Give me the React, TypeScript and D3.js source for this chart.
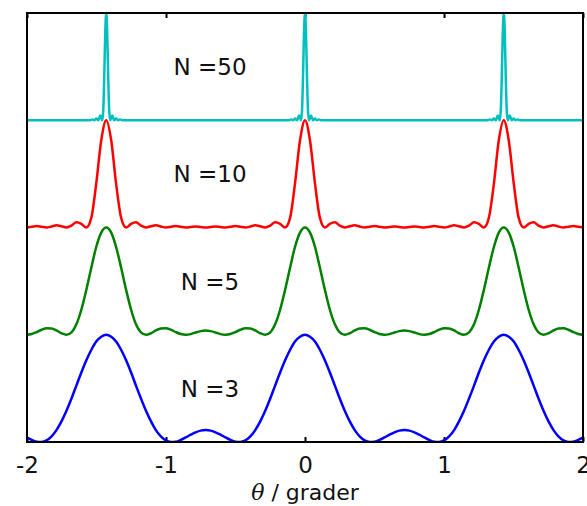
import React, { useEffect, useRef } from "react";
import * as d3 from "d3";

// θ sample positions (degrees) shared by N = 3, 5, 10
const theta: number[] = [
  -2.002, -1.966, -1.931, -1.895, -1.859, -1.823, -1.788, -1.752, -1.716, -1.680,
  -1.645, -1.609, -1.573, -1.537, -1.502, -1.466, -1.430, -1.394, -1.359, -1.323,
  -1.287, -1.251, -1.216, -1.180, -1.144, -1.108, -1.073, -1.037, -1.001, -0.965,
  -0.930, -0.894, -0.858, -0.822, -0.787, -0.751, -0.715, -0.679, -0.644, -0.608,
  -0.572, -0.536, -0.501, -0.465, -0.429, -0.393, -0.358, -0.322, -0.286, -0.250,
  -0.215, -0.179, -0.143, -0.107, -0.072, -0.036,
  0,
  0.036, 0.072, 0.107, 0.143, 0.179, 0.215, 0.250, 0.286, 0.322, 0.358,
  0.393, 0.429, 0.465, 0.501, 0.536, 0.572, 0.608, 0.644, 0.679, 0.715,
  0.751, 0.787, 0.822, 0.858, 0.894, 0.930, 0.965, 1.001, 1.037, 1.073,
  1.108, 1.144, 1.180, 1.216, 1.251, 1.287, 1.323, 1.359, 1.394, 1.430,
  1.466, 1.502, 1.537, 1.573, 1.609, 1.645, 1.680, 1.716, 1.752, 1.788,
  1.823, 1.859, 1.895, 1.931, 1.966, 2.002,
];

const intensityN3: number[] = [
  0.043, 0.019, 0.003, 0.001, 0.016, 0.053, 0.111, 0.192, 0.291, 0.405,
  0.526, 0.648, 0.762, 0.860, 0.937, 0.982, 1, 0.982, 0.937, 0.860,
  0.762, 0.648, 0.526, 0.405, 0.291, 0.192, 0.111, 0.053, 0.016, 0.001,
  0.003, 0.019, 0.043, 0.068, 0.090, 0.106, 0.111, 0.106, 0.090, 0.068,
  0.043, 0.019, 0.003, 0.001, 0.016, 0.053, 0.111, 0.192, 0.291, 0.405,
  0.526, 0.648, 0.762, 0.860, 0.937, 0.982,
  1,
  0.982, 0.937, 0.860, 0.762, 0.648, 0.526, 0.405, 0.291, 0.192, 0.111,
  0.053, 0.016, 0.001, 0.003, 0.019, 0.043, 0.068, 0.090, 0.106, 0.111,
  0.106, 0.090, 0.068, 0.043, 0.019, 0.003, 0.001, 0.016, 0.053, 0.111,
  0.192, 0.291, 0.405, 0.526, 0.648, 0.762, 0.860, 0.937, 0.982, 1,
  0.982, 0.937, 0.860, 0.762, 0.648, 0.526, 0.405, 0.291, 0.192, 0.111,
  0.053, 0.016, 0.001, 0.003, 0.019, 0.043,
];

const intensityN5: number[] = [
  0, 0.007, 0.025, 0.047, 0.061, 0.059, 0.040, 0.014, 0, 0.022,
  0.097, 0.233, 0.419, 0.627, 0.818, 0.952, 1, 0.952, 0.818, 0.627,
  0.419, 0.233, 0.097, 0.022, 0, 0.014, 0.040, 0.059, 0.061, 0.047,
  0.025, 0.007, 0, 0.006, 0.021, 0.034, 0.040, 0.034, 0.021, 0.006,
  0, 0.007, 0.025, 0.047, 0.061, 0.059, 0.040, 0.014, 0, 0.022,
  0.097, 0.233, 0.419, 0.627, 0.818, 0.952,
  1,
  0.952, 0.818, 0.627, 0.419, 0.233, 0.097, 0.022, 0, 0.014, 0.040,
  0.059, 0.061, 0.047, 0.025, 0.007, 0, 0.006, 0.021, 0.034, 0.040,
  0.034, 0.021, 0.006, 0, 0.007, 0.025, 0.047, 0.061, 0.059, 0.040,
  0.014, 0, 0.022, 0.097, 0.233, 0.419, 0.627, 0.818, 0.952, 1,
  0.952, 0.818, 0.627, 0.419, 0.233, 0.097, 0.022, 0, 0.014, 0.040,
  0.059, 0.061, 0.047, 0.025, 0.007, 0,
];

const intensityN10: number[] = [
  0, 0.006, 0.013, 0.007, 0, 0.009, 0.020, 0.012, 0, 0.018,
  0.049, 0.034, 0, 0.092, 0.409, 0.811, 1, 0.811, 0.409, 0.092,
  0, 0.034, 0.049, 0.018, 0, 0.012, 0.020, 0.009, 0, 0.007,
  0.013, 0.006, 0, 0.005, 0.010, 0.005, 0, 0.005, 0.010, 0.005,
  0, 0.006, 0.013, 0.007, 0, 0.009, 0.020, 0.012, 0, 0.018,
  0.049, 0.034, 0, 0.092, 0.409, 0.811,
  1,
  0.811, 0.409, 0.092, 0, 0.034, 0.049, 0.018, 0, 0.012, 0.020,
  0.009, 0, 0.007, 0.013, 0.006, 0, 0.005, 0.010, 0.005, 0,
  0.005, 0.010, 0.005, 0, 0.006, 0.013, 0.007, 0, 0.009, 0.020,
  0.012, 0, 0.018, 0.049, 0.034, 0, 0.092, 0.409, 0.811, 1,
  0.811, 0.409, 0.092, 0, 0.034, 0.049, 0.018, 0, 0.012, 0.020,
  0.009, 0, 0.007, 0.013, 0.006, 0,
];

// N = 50 has very narrow peaks: its own, denser sampling near the orders
const theta50: number[] = [
  -2.0,
  -1.5444, -1.5301, -1.5158, -1.5015, -1.4872, -1.4729, -1.4586, -1.4515, -1.4443, -1.4372,
  -1.43,
  -1.4228, -1.4157, -1.4085, -1.4014, -1.3871, -1.3728, -1.3585, -1.3442, -1.3299, -1.3156,
  -0.715,
  -0.1144, -0.1001, -0.0858, -0.0715, -0.0572, -0.0429, -0.0286, -0.0215, -0.0143, -0.0072,
  0,
  0.0072, 0.0143, 0.0215, 0.0286, 0.0429, 0.0572, 0.0715, 0.0858, 0.1001, 0.1144,
  0.715,
  1.3156, 1.3299, 1.3442, 1.3585, 1.3728, 1.3871, 1.4014, 1.4085, 1.4157, 1.4228,
  1.43,
  1.4372, 1.4443, 1.4515, 1.4586, 1.4729, 1.4872, 1.5015, 1.5158, 1.5301, 1.5444,
  2.0,
];

const intensityN50: number[] = [
  0,
  0, 0.008, 0, 0.016, 0, 0.045, 0, 0.090, 0.405, 0.811,
  1,
  0.811, 0.405, 0.090, 0, 0.045, 0, 0.016, 0, 0.008, 0,
  0,
  0, 0.008, 0, 0.016, 0, 0.045, 0, 0.090, 0.405, 0.811,
  1,
  0.811, 0.405, 0.090, 0, 0.045, 0, 0.016, 0, 0.008, 0,
  0,
  0, 0.008, 0, 0.016, 0, 0.045, 0, 0.090, 0.405, 0.811,
  1,
  0.811, 0.405, 0.090, 0, 0.045, 0, 0.016, 0, 0.008, 0,
  0,
];

const seriesLabels = ["N =3", "N =5", "N =10", "N =50"];
const seriesOffsets = [0, 1, 2, 3];
const seriesColors = ["#0000FF", "#008000", "#FF0000", "#00BFBF"];
const xTicks = [-2, -1, 0, 1, 2];

const W = 587;
const H = 506;
const L = 27;
const R = 583;
const T = 13;
const B = 442;

export default function App() {
  const axisRef = useRef<SVGGElement>(null);
  const topRef = useRef<SVGGElement>(null);

  const x = d3.scaleLinear().domain([-2, 2]).range([L, R]);
  const y = d3.scaleLinear().domain([0, 4]).range([B, T]);

  const series = [
    { xs: theta, ys: intensityN3 },
    { xs: theta, ys: intensityN5 },
    { xs: theta, ys: intensityN10 },
    { xs: theta50, ys: intensityN50 },
  ];

  useEffect(() => {
    if (axisRef.current) {
      const g = d3.select(axisRef.current);
      g.call(
        d3
          .axisBottom(x)
          .tickValues(xTicks)
          .tickSize(-5)
          .tickPadding(15)
          .tickFormat((d) => String(d))
      );
      g.select(".domain").remove();
      g.selectAll(".tick line").attr("stroke", "#000").attr("stroke-width", 2);
      g.selectAll(".tick text")
        .attr("font-family", "DejaVu Sans, sans-serif")
        .attr("font-size", 23)
        .attr("fill", "#111");
    }
    if (topRef.current) {
      const g = d3.select(topRef.current);
      g.call(d3.axisTop(x).tickValues(xTicks).tickSize(-5).tickFormat(() => ""));
      g.select(".domain").remove();
      g.selectAll(".tick line").attr("stroke", "#000").attr("stroke-width", 2);
    }
  }, []);

  const line = (xs: number[], ys: number[], off: number) =>
    d3
      .line<number>()
      .x((_, i) => x(xs[i]))
      .y((v) => y(v + off))
      .curve(d3.curveMonotoneX)(ys) || "";

  return (
    <svg
      width={W}
      height={H}
      style={{ position: "absolute", left: 0, top: 0, background: "#fff" }}
    >
      <defs>
        <clipPath id="plot">
          <rect x={L} y={T - 2} width={R - L} height={B - T + 2} />
        </clipPath>
      </defs>
      <g ref={topRef} transform={`translate(0,${T})`} />
      <g ref={axisRef} transform={`translate(0,${B})`} />
      <g clipPath="url(#plot)">
        {series.map((s, i) => (
          <path
            key={i}
            d={line(s.xs, s.ys, seriesOffsets[i])}
            fill="none"
            stroke={seriesColors[i]}
            strokeWidth={2.5}
            strokeLinejoin="round"
          />
        ))}
      </g>
      <rect x={L} y={T} width={R - L} height={B - T} fill="none" stroke="#000" strokeWidth={2} />
      {seriesLabels.map((t, i) => (
        <text
          key={t}
          x={210}
          y={y(seriesOffsets[i] + 0.42)}
          textAnchor="middle"
          fontFamily="DejaVu Sans, sans-serif"
          fontSize={23}
          fill="#111"
        >
          {t}
        </text>
      ))}
      <text x={305} y={500} textAnchor="middle" fontFamily="DejaVu Sans, sans-serif" fontSize={22} fill="#111">
        <tspan fontFamily="DejaVu Serif, serif" fontStyle="italic">θ</tspan>
        <tspan> / grader</tspan>
      </text>
    </svg>
  );
}
